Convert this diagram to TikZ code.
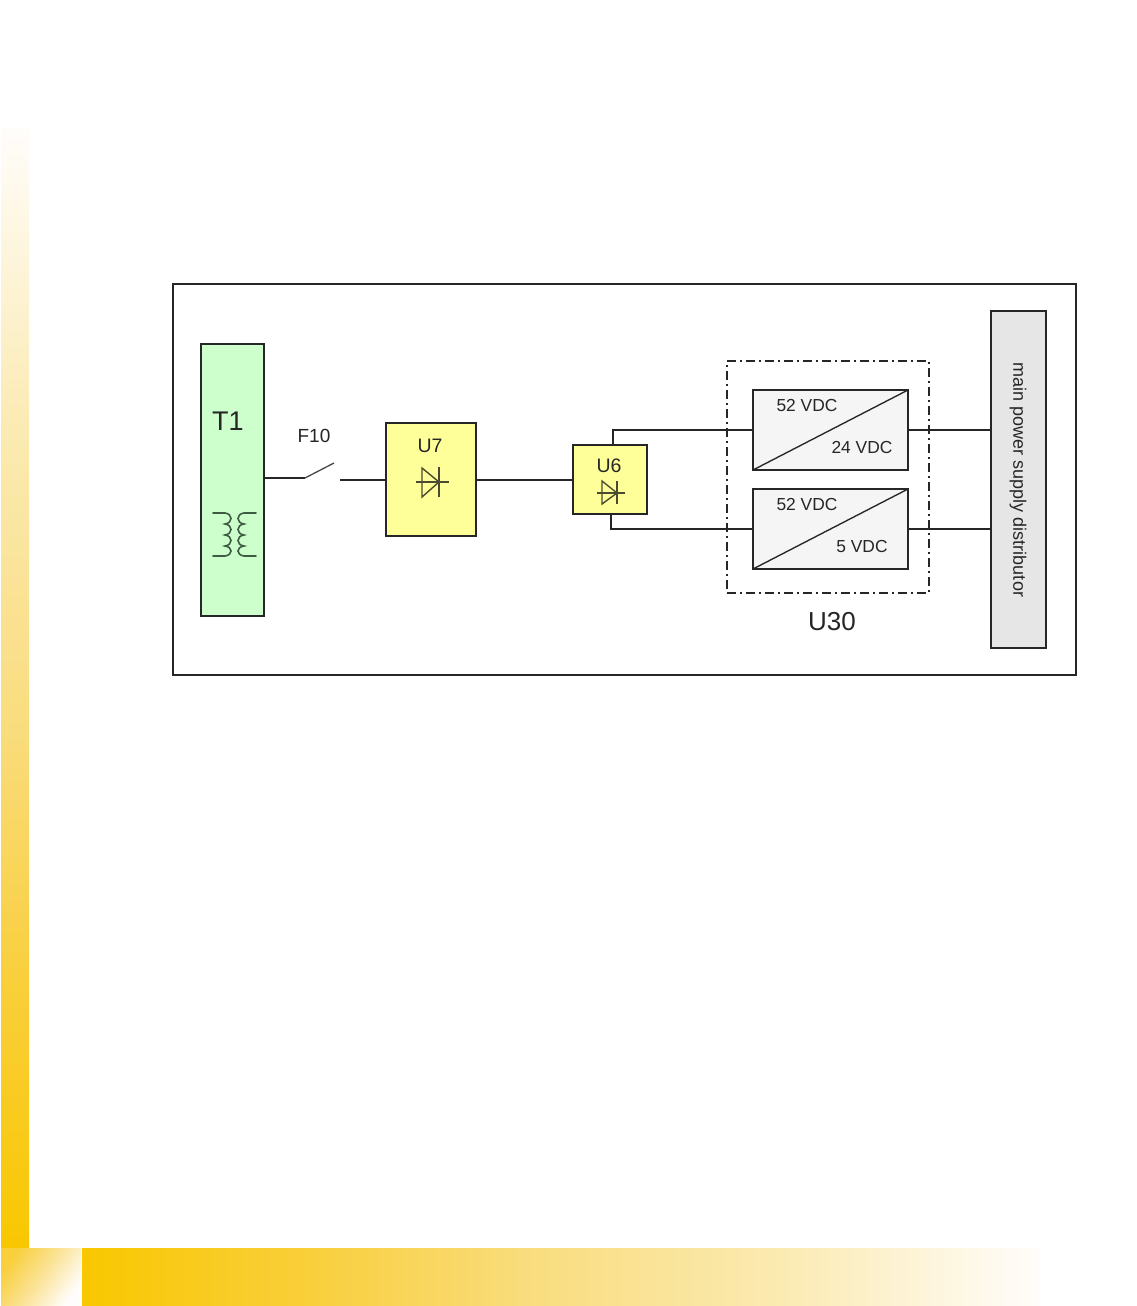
\documentclass[tikz,border=0pt]{standalone}
\usepackage{fontspec}
\setmainfont{Liberation Sans}
\definecolor{yellowA}{HTML}{F9C700}
\definecolor{yellowB}{HTML}{F9CF3C}
\definecolor{yellowC}{HTML}{F9DC7C}
\definecolor{yellowD}{HTML}{FBEBB4}
\definecolor{yellowE}{HTML}{FFFDFB}
\definecolor{inkc}{HTML}{262626}
\definecolor{coilc}{HTML}{3E5A42}
\definecolor{diodec}{HTML}{4A4A30}
\pgfdeclareverticalshading{sidebar}{100bp}{
  color(0bp)=(yellowA); color(25bp)=(yellowA); color(37bp)=(yellowB); color(48bp)=(yellowC);
  color(62bp)=(yellowD); color(75bp)=(yellowE); color(100bp)=(yellowE)}
\pgfdeclarehorizontalshading{footbar}{100bp}{
  color(0bp)=(yellowA); color(25bp)=(yellowA); color(37bp)=(yellowB); color(48bp)=(yellowC);
  color(62bp)=(yellowD); color(75bp)=(yellowE); color(100bp)=(yellowE)}
\tikzset{
  wire/.style={draw=inkc,line width=1.35pt},
  blockbox/.style={draw=inkc,line width=1.35pt,inner sep=0pt,outer sep=0pt},
  lbl/.style={inner sep=0pt,outer sep=0pt,text=inkc,font=\fontsize{#1}{#1}\selectfont},
  coil/.style={draw=coilc,line width=1.6pt,line cap=round},
  diode/.style={draw=diodec,line width=1.4pt},
}
\begin{document}
\begin{tikzpicture}[x=1pt,y=-1pt]
\useasboundingbox (0,0) rectangle (1136,1306);
\fill[white] (0,0) rectangle (1136,1306);
% page decoration
\shade[shading=sidebar] (1,128) rectangle (29,1248);
\shade[shading=footbar] (82,1248) rectangle (1040,1306);
\shade[top color=yellowB,bottom color=yellowE,middle color=yellowC!80!white,shading angle=55] (1,1248) rectangle (81,1306);
% outer frame
\node[blockbox,fill=white,minimum width=903pt,minimum height=391pt] (frame) at (624.5,479.5) {};
% blocks
\node[blockbox,fill={rgb,255:red,204;green,255;blue,204},minimum width=63pt,minimum height=272pt] (T1box) at (232.5,480) {};
\node[blockbox,fill={rgb,255:red,255;green,255;blue,153},minimum width=90pt,minimum height=113pt] (U7box) at (431,479.5) {};
\node[blockbox,fill={rgb,255:red,255;green,255;blue,153},minimum width=74pt,minimum height=69pt] (U6box) at (610,479.5) {};
\node[blockbox,fill={rgb,255:red,245;green,245;blue,245},minimum width=155pt,minimum height=80pt] (conva) at (830.5,430) {};
\node[blockbox,fill={rgb,255:red,245;green,245;blue,245},minimum width=155pt,minimum height=80pt] (convb) at (830.5,529) {};
\node[blockbox,fill={rgb,255:red,230;green,230;blue,230},minimum width=337pt,minimum height=55pt,rotate=-90] (dist) at (1018.5,479.5) {};
% diagonals
\draw[wire] (conva.south west) -- (conva.north east);
\draw[wire] (convb.south west) -- (convb.north east);
% switch
\coordinate (swa) at (305,478);
\coordinate (swb) at (334,463);
\coordinate (swc) at (340,480);
\draw[wire] (T1box.east |- swa) -- (swa);
\draw[draw=inkc!85,line width=1.3pt] (swa) -- (swb);
\draw[wire] (swc) -- (swc -| U7box.west);
% wires
\coordinate (midw) at (500,480);
\draw[wire] (midw -| U7box.east) -- (midw -| U6box.west);
\coordinate (upa) at (613,430);
\coordinate (upb) at (611,529);
\draw[wire] (upa |- U6box.north) -- (upa) -- (upa -| conva.west);
\draw[wire] (upb |- U6box.south) -- (upb) -- (upb -| convb.west);
\coordinate (dl) at (991,430);
\draw[wire] (conva.east) -- (dl);
\coordinate (dm) at (991,529);
\draw[wire] (convb.east) -- (dm);
% dashed enclosure over the wires
\node[draw=inkc,line width=1.2pt,inner sep=0pt,outer sep=0pt,dash pattern=on 9pt off 4pt on 2pt off 4pt,minimum width=202pt,minimum height=232pt] (U30box) at (828,477) {};
% transformer
\draw[coil] (213,513) -- (225,513) .. controls (233,514) and (233,523) .. (225,524)
  .. controls (233,525) and (233,534) .. (225,535)
  .. controls (233,536) and (233,545) .. (225,546)
  .. controls (233,547) and (233,555) .. (225,556) -- (213,556);
\draw[coil] (256,513) -- (244,513) .. controls (236,514) and (236,523) .. (244,524)
  .. controls (236,525) and (236,534) .. (244,535)
  .. controls (236,536) and (236,545) .. (244,546)
  .. controls (236,547) and (236,555) .. (244,556) -- (256,556);
% diodes
\draw[diode] (422,468) -- (439,482) -- (422,497) -- cycle;
\draw[diode] (439,467) -- (439,497);
\draw[diode] (416,482) -- (449,482);
\draw[diode] (602,481) -- (617,493) -- (602,504) -- cycle;
\draw[diode] (617,481) -- (617,504);
\draw[diode] (597,493) -- (625,493);
% labels
\node[lbl=27] (t1) at (228,421) {T1};
\node[lbl=19] (f10) at (314,436) {F10};
\node[lbl=19.5] (u7) at (430,446) {U7};
\node[lbl=19.5] (u6) at (609,466) {U6};
\node[lbl=17.4] (va) at (807,406) {52 VDC};
\node[lbl=17.4] (vb) at (862,448) {24 VDC};
\node[lbl=17.4] (vc) at (807,505) {52 VDC};
\node[lbl=17.4] (vd) at (862,547) {5 VDC};
\node[lbl=26] (u30) at (832,622) {U30};
\node[lbl=18,rotate=-90] (distlbl) at (1018,480) {main power supply distributor};
\end{tikzpicture}
\end{document}
